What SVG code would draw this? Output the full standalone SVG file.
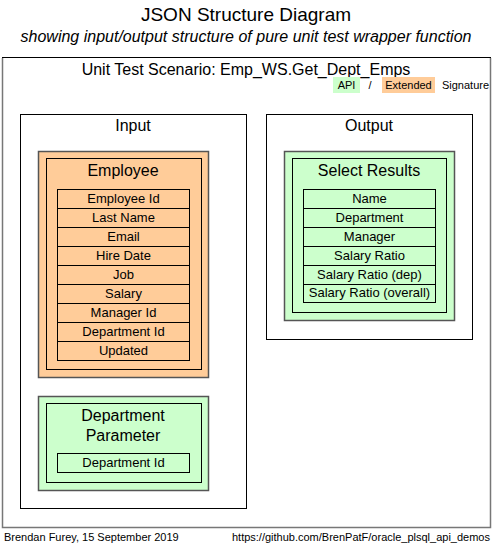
<svg xmlns="http://www.w3.org/2000/svg" width="493" height="545" viewBox="0 0 493 545">
<style>
text{font-family:"Liberation Sans",Arial,sans-serif;fill:#000}
.c{text-anchor:middle}
.frame{fill:#fff;stroke:#000;stroke-width:1}
.org{fill:#FFCC99;stroke:#555;stroke-width:1.5}
.grn{fill:#CCFFCC;stroke:#555;stroke-width:1.5}
.in{fill:none;stroke:#000;stroke-width:1}
.row{stroke:#000;stroke-width:1}
.rt{font-size:13px;text-anchor:middle}
.bt{font-size:16px;text-anchor:middle}
</style>
<rect width="493" height="545" fill="#fff"/>
<text x="246" y="21" class="c" font-size="19">JSON Structure Diagram</text>
<text x="246" y="42" class="c" font-size="16" font-style="italic">showing input/output structure of pure unit test wrapper function</text>

<g id="scenario">
<rect x="2.5" y="57.5" width="488" height="470" fill="#fff" stroke="#000"/>
<path d="M2.5 58 V527.5 H490.5 V58" fill="none" stroke="#777" stroke-width="1.5"/>
<text x="246" y="75" class="c" font-size="16">Unit Test Scenario: Emp_WS.Get_Dept_Emps</text>
<rect x="333" y="77" width="27" height="16" fill="#CCFFCC"/>
<text x="346.5" y="88.5" class="c" font-size="11">API</text>
<text x="370" y="88.5" class="c" font-size="11">/</text>
<rect x="382" y="77" width="53" height="16" fill="#FFCC99"/>
<text x="408.5" y="88.5" class="c" font-size="11">Extended</text>
<text x="465.5" y="88.5" class="c" font-size="11">Signature</text>
</g>

<g id="input">
<rect x="20.5" y="114.5" width="226" height="394" class="frame"/>
<text x="133" y="131" class="c" font-size="16">Input</text>
</g>

<g id="output">
<rect x="266.5" y="114.5" width="206" height="225" class="frame"/>
<text x="369" y="131" class="c" font-size="16">Output</text>
</g>

<g id="employee">
<rect x="38.5" y="151.5" width="170" height="226" class="org"/>
<rect x="46.5" y="158.5" width="155" height="211" class="in"/>
<text x="123" y="176" class="bt">Employee</text>
<g fill="#FFCC99">
<rect x="57.5" y="189.5" width="132" height="19" class="row"/>
<rect x="57.5" y="208.5" width="132" height="19" class="row"/>
<rect x="57.5" y="227.5" width="132" height="19" class="row"/>
<rect x="57.5" y="246.5" width="132" height="19" class="row"/>
<rect x="57.5" y="265.5" width="132" height="19" class="row"/>
<rect x="57.5" y="284.5" width="132" height="19" class="row"/>
<rect x="57.5" y="303.5" width="132" height="19" class="row"/>
<rect x="57.5" y="322.5" width="132" height="19" class="row"/>
<rect x="57.5" y="341.5" width="132" height="19" class="row"/>
</g>
<text x="123.5" y="202.5" class="rt">Employee Id</text>
<text x="123.5" y="221.5" class="rt">Last Name</text>
<text x="123.5" y="240.5" class="rt">Email</text>
<text x="123.5" y="259.5" class="rt">Hire Date</text>
<text x="123.5" y="278.5" class="rt">Job</text>
<text x="123.5" y="297.5" class="rt">Salary</text>
<text x="123.5" y="316.5" class="rt">Manager Id</text>
<text x="123.5" y="335.5" class="rt">Department Id</text>
<text x="123.5" y="354.5" class="rt">Updated</text>
</g>

<g id="department-parameter">
<rect x="38.5" y="396.5" width="170" height="94" class="grn"/>
<rect x="46.5" y="403.5" width="155" height="79" class="in"/>
<text x="123" y="421" class="bt">Department</text>
<text x="123" y="441" class="bt">Parameter</text>
<rect x="57.5" y="453.5" width="132" height="19" fill="#CCFFCC" class="row"/>
<text x="123.5" y="466.5" class="rt">Department Id</text>
</g>

<g id="select-results">
<rect x="284.5" y="151.5" width="170" height="169" class="grn"/>
<rect x="292.5" y="158.5" width="154" height="154" class="in"/>
<text x="369" y="176" class="bt">Select Results</text>
<g fill="#CCFFCC">
<rect x="303.5" y="189.5" width="132" height="19" class="row"/>
<rect x="303.5" y="208.5" width="132" height="19" class="row"/>
<rect x="303.5" y="227.5" width="132" height="19" class="row"/>
<rect x="303.5" y="246.5" width="132" height="19" class="row"/>
<rect x="303.5" y="265.5" width="132" height="19" class="row"/>
<rect x="303.5" y="284.5" width="132" height="18" class="row"/>
</g>
<text x="369.5" y="202.5" class="rt">Name</text>
<text x="369.5" y="221.5" class="rt">Department</text>
<text x="369.5" y="240.5" class="rt">Manager</text>
<text x="369.5" y="259.5" class="rt">Salary Ratio</text>
<text x="369.5" y="278.5" class="rt">Salary Ratio (dep)</text>
<text x="369.5" y="297" class="rt">Salary Ratio (overall)</text>
</g>

<g id="connectors"></g>

<text x="4" y="541" font-size="11">Brendan Furey, 15 September 2019</text>
<text x="490" y="541" font-size="11" text-anchor="end">https://github.com/BrenPatF/oracle_plsql_api_demos</text>
</svg>
